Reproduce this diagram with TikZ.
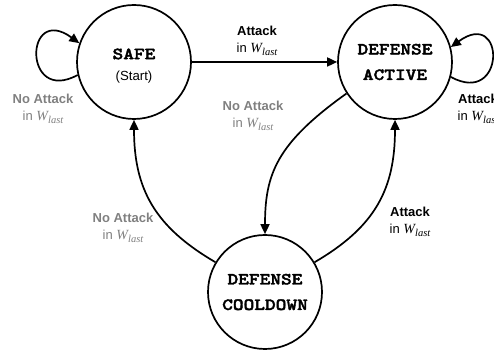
\documentclass[tikz,border=0pt]{standalone}
\usepackage{fontspec}
\setmainfont{Liberation Sans}
\newfontfamily\statefont{lmmonolt10-bold}[Extension=.otf, FakeBold=2.2, FakeStretch=1.2]
\newfontfamily\winfont{Liberation Serif}
\usetikzlibrary{arrows.meta}

% window symbol W_last
\newcommand\wlast{{\winfont\itshape\fontsize{14}{14}\selectfont W\raisebox{-0.45ex}{\fontsize{10.5}{10.5}\selectfont last}}}

\begin{document}
\begin{tikzpicture}[x=1pt,y=1pt,
  state/.style={circle, draw, line width=1.7pt, minimum size=114pt, inner sep=0pt,
                align=center, font=\statefont\fontsize{17}{25.5}\selectfont},
  edge/.style={line width=1.7pt, -{Triangle[length=10pt,width=9pt]}},
  lbl/.style={align=center, font=\fontsize{13}{17.5}\selectfont},
  quiet/.style={lbl, text=gray}]
\useasboundingbox (0,0) rectangle (494,352);

% states
\node[state] (safe)   at (134,290) {};
\node[align=center, font=\statefont\fontsize{17}{25.5}\selectfont] (safetext) at ([yshift=-4pt]safe.center)
  {SAFE\\[-4pt]{\normalfont\fontsize{13.2}{15}\selectfont (Start)}};
\node[state] (active) at (395,290) {DEFENSE\\ACTIVE};
\node[state] (cool)   at (265,60)  {DEFENSE\\COOLDOWN};

% transitions
\draw[edge] (safe) -- (active);
\draw[edge] (active.213) .. controls +(-70,-50) and +(0,60) .. (cool.north);
\draw[edge] (cool.31) .. controls +(60,35) and +(0,-70) .. (active.south);
\draw[edge] (cool.149) .. controls +(-60,35) and +(0,-70) .. (safe.south);
\draw[edge] (safe.193) .. controls +(-55,-30) and +(-55,40) .. (safe.161);
\draw[edge] (active.-15) .. controls +(55,-30) and +(55,40) .. (active.15);

% transition labels
\node[lbl]   (l1) at (257,311) {{\bfseries Attack}\\in \wlast};
\node[quiet] (l2) at (43,243)  {{\bfseries No Attack}\\in \wlast};
\node[lbl]   (l3) at (478,243) {{\bfseries Attack}\\in \wlast};
\node[quiet] (l4) at (253,236) {{\bfseries No Attack}\\in \wlast};
\node[lbl]   (l5) at (410,130) {{\bfseries Attack}\\in \wlast};
\node[quiet] (l6) at (123,124) {{\bfseries No Attack}\\in \wlast};
\end{tikzpicture}
\end{document}
